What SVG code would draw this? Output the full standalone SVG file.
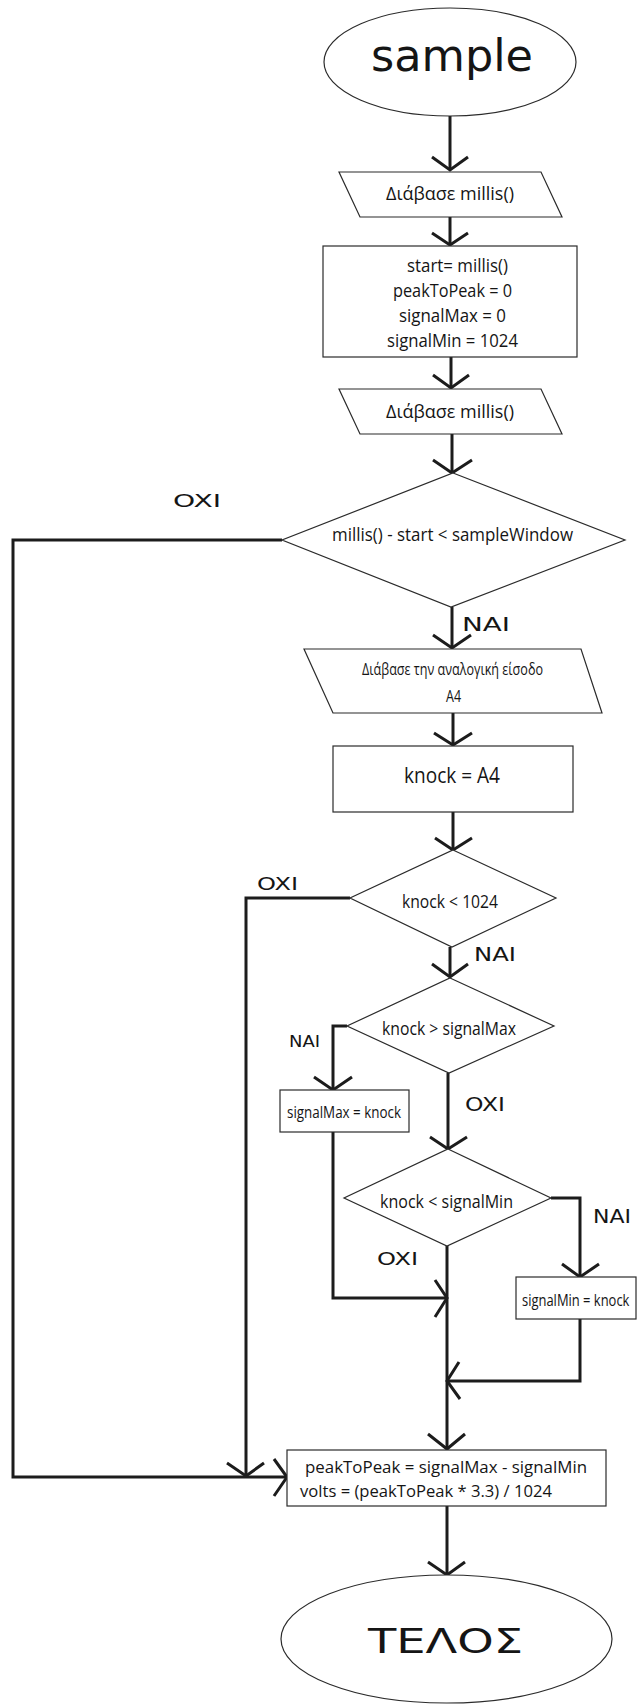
<svg xmlns="http://www.w3.org/2000/svg" width="638" height="1704" viewBox="0 0 638 1704">
  <style>
    .shape { fill: #ffffff; stroke: #2b2b2b; stroke-width: 1.2; }
    .wire { fill: none; stroke: #1c1c1c; stroke-width: 3; stroke-linejoin: miter; }
    .head { fill: none; stroke: #1c1c1c; stroke-width: 3; stroke-linecap: butt; stroke-linejoin: miter; }
    .t { font-family: "Open Sans", "Noto Sans", "DejaVu Sans", sans-serif; fill: #151515; }
    .lbl { font-family: "DejaVu Sans", "Open Sans", sans-serif; fill: #151515; }
  </style>
  <rect x="0" y="0" width="638" height="1704" fill="#ffffff"/>

  <!-- connectors -->
  <g id="connectors">
    <!-- main column -->
    <line class="wire" x1="450" y1="116" x2="450" y2="169"/>
    <polyline class="head" points="432,157 450,170 468,157"/>
    <line class="wire" x1="450" y1="217" x2="450" y2="244"/>
    <polyline class="head" points="432,233 450,245 468,233"/>
    <line class="wire" x1="451" y1="357" x2="451" y2="387"/>
    <polyline class="head" points="433,375 451,388 469,375"/>
    <line class="wire" x1="452" y1="434" x2="452" y2="472"/>
    <polyline class="head" points="433,460 452,473 472,460"/>
    <line class="wire" x1="452" y1="607" x2="452" y2="647"/>
    <polyline class="head" points="433,635 452,648 471,635"/>
    <line class="wire" x1="453" y1="713" x2="453" y2="744"/>
    <polyline class="head" points="434,733 453,745 472,733"/>
    <line class="wire" x1="453" y1="812" x2="453" y2="849"/>
    <polyline class="head" points="435,838 453,850 472,838"/>
    <line class="wire" x1="450" y1="947" x2="450" y2="976"/>
    <polyline class="head" points="432,964 450,977 468,964"/>
    <line class="wire" x1="448" y1="1073" x2="448" y2="1148"/>
    <polyline class="head" points="430,1137 448,1149 467,1137"/>
    <line class="wire" x1="447" y1="1246" x2="447" y2="1448"/>
    <polyline class="head" points="428,1434 447,1449 465,1434"/>
    <line class="wire" x1="447" y1="1506" x2="447" y2="1573"/>
    <polyline class="head" points="428,1562 447,1575 465,1562"/>

    <!-- outer "no" branch of the sampling loop -->
    <polyline class="wire" points="282,540 13,540 13,1477 286,1477"/>
    <polyline class="head" points="274,1459 287,1477 274,1496"/>

    <!-- "no" branch of knock < 1024 -->
    <polyline class="wire" points="350,898 246,898 246,1475"/>
    <polyline class="head" points="227,1463 246,1476 264,1463"/>

    <!-- knock > signalMax : yes -->
    <polyline class="wire" points="347,1026 333,1026 333,1089"/>
    <polyline class="head" points="314,1077 333,1090 352,1077"/>
    <polyline class="wire" points="333,1132 333,1298 446,1298"/>
    <polyline class="head" points="435,1280 447,1298 435,1317"/>

    <!-- knock < signalMin : yes -->
    <polyline class="wire" points="551,1198 580,1198 580,1276"/>
    <polyline class="head" points="562,1264 580,1277 599,1264"/>
    <polyline class="wire" points="580,1319 580,1381 448,1381"/>
    <polyline class="head" points="459,1362 447,1381 460,1399"/>
  </g>

  <!-- nodes -->
  <g id="start">
    <ellipse class="shape" cx="450" cy="62" rx="126" ry="54"/>
    <text class="lbl" x="371" y="71" font-size="44" textLength="162" lengthAdjust="spacingAndGlyphs">sample</text>
  </g>

  <g id="read-millis-1">
    <polygon class="shape" points="339,172 541,172 562,217 360,217"/>
    <text class="t" x="386" y="200" font-size="18" textLength="128" lengthAdjust="spacingAndGlyphs">Διάβασε millis()</text>
  </g>

  <g id="init">
    <rect class="shape" x="323" y="246" width="254" height="111"/>
    <text class="t" x="407" y="272" font-size="18" textLength="101" lengthAdjust="spacingAndGlyphs">start= millis()</text>
    <text class="t" x="393" y="297" font-size="18" textLength="119" lengthAdjust="spacingAndGlyphs">peakToPeak = 0</text>
    <text class="t" x="399" y="322" font-size="18" textLength="107" lengthAdjust="spacingAndGlyphs">signalMax = 0</text>
    <text class="t" x="387" y="347" font-size="18" textLength="131" lengthAdjust="spacingAndGlyphs">signalMin = 1024</text>
  </g>

  <g id="read-millis-2">
    <polygon class="shape" points="339,389 541,389 562,434 360,434"/>
    <text class="t" x="386" y="418" font-size="18" textLength="128" lengthAdjust="spacingAndGlyphs">Διάβασε millis()</text>
  </g>

  <g id="window-check">
    <polygon class="shape" points="453,473 625,540 451,607 282,540"/>
    <text class="t" x="332" y="541" font-size="18" textLength="241" lengthAdjust="spacingAndGlyphs">millis() - start &lt; sampleWindow</text>
    <text class="lbl" x="173" y="507" font-size="18" textLength="48" lengthAdjust="spacingAndGlyphs">OXI</text>
    <text class="lbl" x="462" y="631" font-size="20" textLength="48" lengthAdjust="spacingAndGlyphs">NAI</text>
  </g>

  <g id="read-a4">
    <polygon class="shape" points="304,649 581,649 602,713 333,713"/>
    <text class="t" x="362" y="675" font-size="16" textLength="181" lengthAdjust="spacingAndGlyphs">Διάβασε την αναλογική είσοδο</text>
    <text class="t" x="446" y="702" font-size="16" textLength="15" lengthAdjust="spacingAndGlyphs">A4</text>
  </g>

  <g id="assign-knock">
    <rect class="shape" x="333" y="746" width="240" height="66"/>
    <text class="t" x="404" y="783" font-size="21" textLength="96" lengthAdjust="spacingAndGlyphs">knock = A4</text>
  </g>

  <g id="range-check">
    <polygon class="shape" points="453,850 556,898 452,947 350,898"/>
    <text class="t" x="402" y="908" font-size="18" textLength="96" lengthAdjust="spacingAndGlyphs">knock &lt; 1024</text>
    <text class="lbl" x="257" y="890" font-size="18" textLength="41" lengthAdjust="spacingAndGlyphs">OXI</text>
    <text class="lbl" x="474" y="961" font-size="19" textLength="42" lengthAdjust="spacingAndGlyphs">NAI</text>
  </g>

  <g id="max-check">
    <polygon class="shape" points="450,978 554,1026 449,1073 347,1026"/>
    <text class="t" x="382" y="1035" font-size="18" textLength="134" lengthAdjust="spacingAndGlyphs">knock &gt; signalMax</text>
    <text class="lbl" x="289" y="1047" font-size="16" textLength="31" lengthAdjust="spacingAndGlyphs">NAI</text>
    <text class="lbl" x="465" y="1111" font-size="19" textLength="40" lengthAdjust="spacingAndGlyphs">OXI</text>
  </g>

  <g id="set-max">
    <rect class="shape" x="280" y="1090" width="129" height="42"/>
    <text class="t" x="287" y="1118" font-size="16" textLength="114" lengthAdjust="spacingAndGlyphs">signalMax = knock</text>
  </g>

  <g id="min-check">
    <polygon class="shape" points="448,1149 551,1198 447,1246 344,1198"/>
    <text class="t" x="380" y="1208" font-size="18" textLength="133" lengthAdjust="spacingAndGlyphs">knock &lt; signalMin</text>
    <text class="lbl" x="593" y="1223" font-size="20" textLength="38" lengthAdjust="spacingAndGlyphs">NAI</text>
    <text class="lbl" x="377" y="1265" font-size="18" textLength="41" lengthAdjust="spacingAndGlyphs">OXI</text>
  </g>

  <g id="set-min">
    <rect class="shape" x="516" y="1277" width="120" height="42"/>
    <!-- condensed horizontally so the label fits the narrow box -->
    <text class="t" transform="translate(522,1306) scale(0.81,1)" x="0" y="0" font-size="16">signalMin = knock</text>
  </g>

  <g id="compute">
    <rect class="shape" x="287" y="1450" width="319" height="56"/>
    <text class="t" x="305" y="1473" font-size="17" textLength="282" lengthAdjust="spacingAndGlyphs">peakToPeak = signalMax - signalMin</text>
    <text class="t" x="300" y="1497" font-size="17" textLength="252" lengthAdjust="spacingAndGlyphs">volts = (peakToPeak * 3.3) / 1024</text>
  </g>

  <g id="end">
    <ellipse class="shape" cx="446.5" cy="1639" rx="165.5" ry="64"/>
    <text class="lbl" x="368" y="1653" font-size="34" textLength="155" lengthAdjust="spacingAndGlyphs">ΤΕΛΟΣ</text>
  </g>
</svg>
